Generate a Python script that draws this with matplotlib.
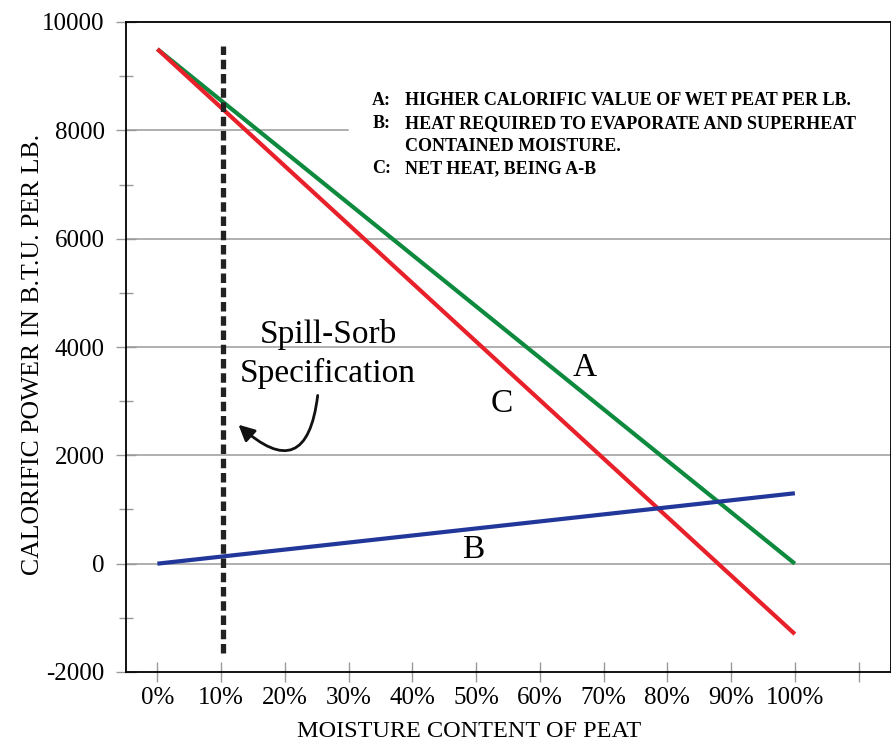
import matplotlib
matplotlib.use("Agg")
import matplotlib.pyplot as plt
from matplotlib.patches import FancyArrowPatch

plt.rcParams['font.family'] = ['Liberation Serif', 'DejaVu Serif']
plt.rcParams['axes.unicode_minus'] = False

# data
moisture = [0, 100]                 # % moisture
heat_a = [9500, 0]                  # higher calorific value of wet peat
heat_b = [0, 1300]                  # heat to evaporate / superheat moisture
heat_c = [9500, -1300]              # net heat, A - B
spec_moisture = 10.3                # Spill-Sorb specification
spec_range = [-1650, 9550]

x_ticks = list(range(0, 120, 10))
x_labels = [f"{v}%" for v in range(0, 110, 10)] + [""]
y_ticks = list(range(-2000, 12000, 2000))
y_minor = list(range(-1000, 10000, 2000))

key_letters = ["A:", "B:", "", "C:"]
key_texts = ["HIGHER CALORIFIC VALUE OF WET PEAT PER LB.",
             "HEAT REQUIRED TO EVAPORATE AND SUPERHEAT",
             "CONTAINED MOISTURE.",
             "NET HEAT, BEING A-B"]

fig = plt.figure(figsize=(8.91, 7.45), dpi=100)
ax = fig.add_axes([125.5 / 891, 1 - 672 / 745, 765 / 891, 650 / 745])
ax.set_xlim(-5, 115)
ax.set_ylim(-2000, 10000)

# horizontal grid, the 8000 one is hidden behind the key on the right
grid_col = '#9a9a9a'
for g in [6000, 4000, 2000, 0]:
    ax.axhline(g, color=grid_col, lw=1.1, zorder=1)
ax.axhline(8000, xmax=(348 - 125.5) / 765, color=grid_col, lw=1.1, zorder=1)

ax.plot(moisture, heat_a, color='#0e8a3e', lw=3, solid_capstyle='butt', zorder=3)
ax.plot(moisture, heat_c, color='#e8202a', lw=3, solid_capstyle='butt', zorder=3)
ax.plot(moisture, heat_b, color='#22379a', lw=3, solid_capstyle='butt', zorder=3)
ax.plot([spec_moisture, spec_moisture], spec_range, color='#222222', lw=3.8,
        linestyle=(0, (1.8, 0.9)), zorder=4)

for sp in ax.spines.values():
    sp.set_linewidth(1.3)
    sp.set_color('black')

ax.set_xticks(x_ticks)
ax.set_xticklabels(x_labels)
ax.set_yticks(y_ticks)
ax.set_yticks(y_minor, minor=True)
ax.tick_params(axis='x', direction='inout', length=15, width=1, color=grid_col,
               labelsize=18, pad=3)
ax.tick_params(axis='y', which='major', direction='inout', length=14, width=1,
               color=grid_col, labelsize=18, pad=8)
ax.tick_params(axis='y', which='minor', direction='inout', length=10, width=1,
               color=grid_col)

ax.set_xlabel("MOISTURE CONTENT OF PEAT", fontsize=17.5)
ax.xaxis.set_label_coords((469 - 125.5) / 765, -0.075)
ax.set_ylabel("CALORIFIC POWER IN B.T.U. PER LB.", fontsize=18.5)
ax.yaxis.set_label_coords(-0.107, 0.489)

# curve letters
ax.text(67.1, 3472, "A", fontsize=24, ha='center', va='baseline')
ax.text(54.0, 2807, "C", fontsize=24, ha='center', va='baseline')
ax.text(49.6, 110, "B", fontsize=24, ha='center', va='baseline')

ax.text(26.8, 4081, "Spill-Sorb", fontsize=24, ha='center', va='baseline')
ax.text(26.8, 3361, "Specification", fontsize=24, ha='center', va='baseline')
arrow = FancyArrowPatch((25.2, 3157), (12.4, 2600),
                        connectionstyle="arc3,rad=-1.0",
                        arrowstyle='-|>', mutation_scale=24, lw=2,
                        color='#111111', zorder=5)
ax.add_patch(arrow)

# key text
for i, (k, t) in enumerate(zip(key_letters, key_texts)):
    yk = 8550 - i * 420
    if k:
        ax.text(33.7, yk, k, fontsize=13, fontweight='bold', va='center')
    ax.text(38.9, yk, t, fontsize=13, fontweight='bold', va='center')

fig.savefig("out.png", dpi=100)
